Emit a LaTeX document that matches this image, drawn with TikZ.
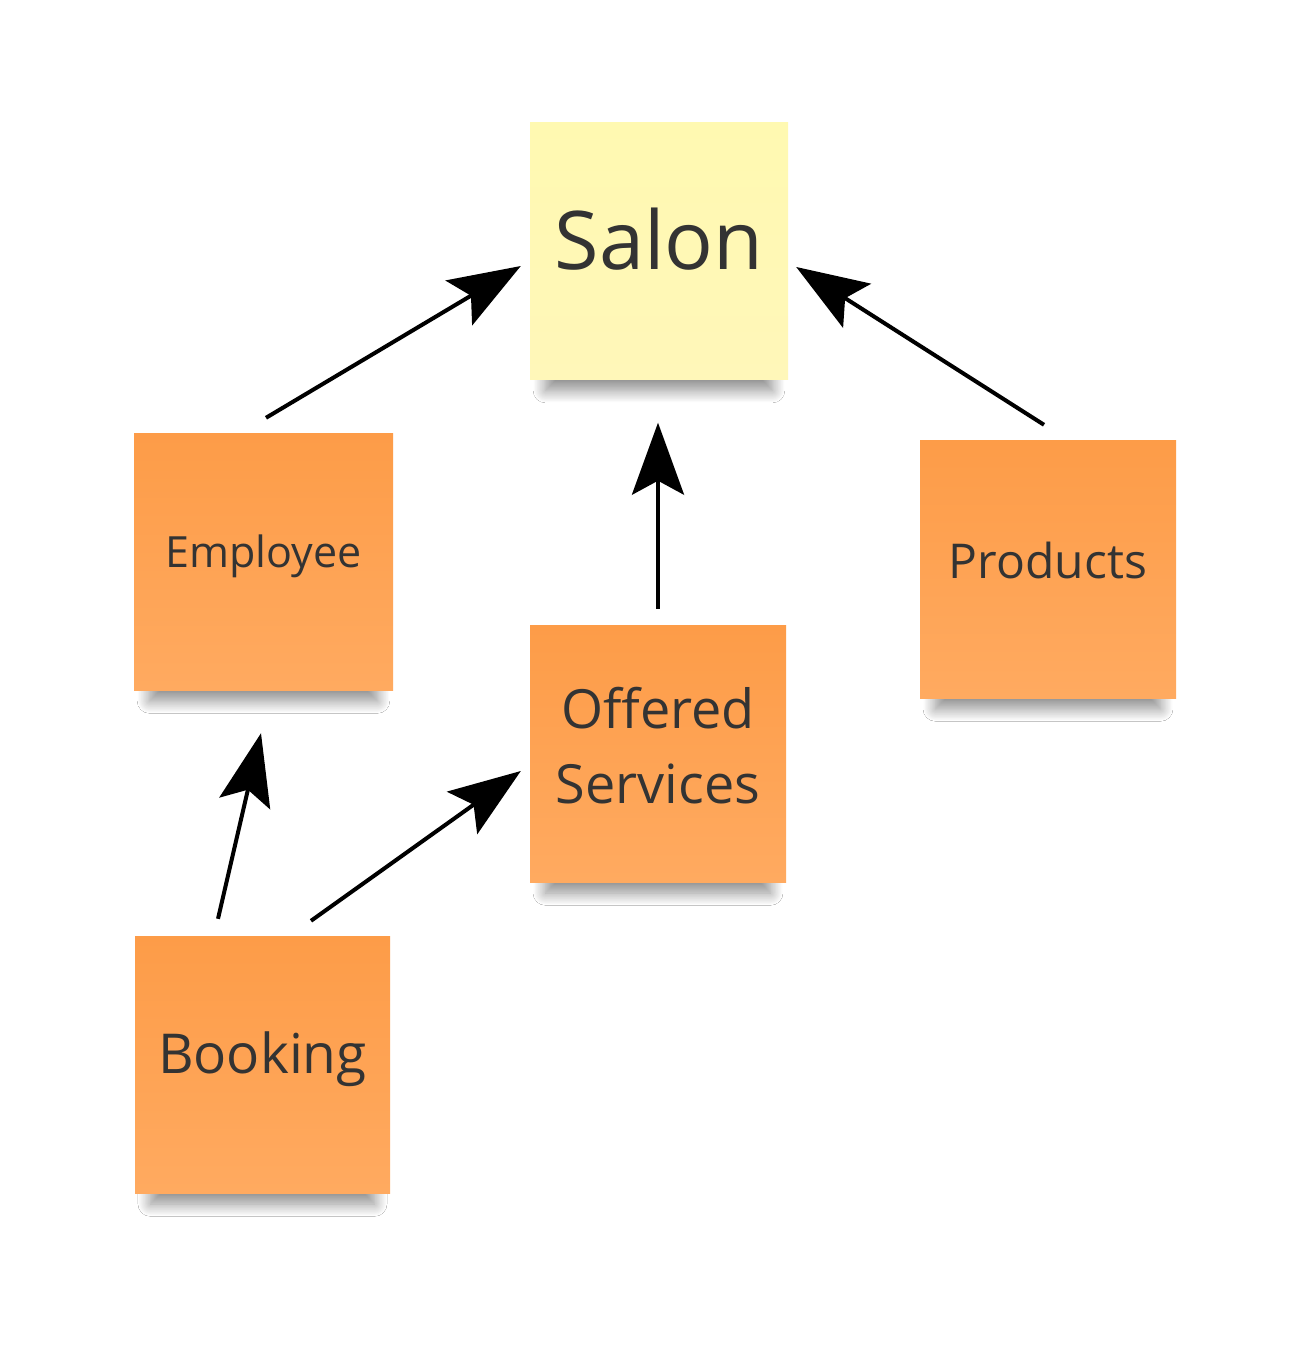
\documentclass[tikz,border=0pt]{standalone}
\usepackage{fontspec}
\setmainfont{Open Sans}
\usetikzlibrary{arrows.meta,shadows.blur,calc}
\definecolor{noteyellow}{RGB}{255,249,177}
\definecolor{noteyellowb}{RGB}{255,247,185}
\definecolor{noteorange}{RGB}{253,156,72}
\definecolor{noteorangeb}{RGB}{255,170,96}
\definecolor{notetext}{RGB}{51,51,51}
\tikzset{
  note/.style={rectangle, inner sep=0pt, minimum width=257pt, minimum height=257pt,
    blur shadow={shadow xshift=0pt, shadow yshift=-30pt, shadow scale=0.88,
      shadow blur radius=14pt, shadow blur steps=20, shadow opacity=45}},
  yellownote/.style={note, top color=noteyellow, bottom color=noteyellowb},
  orangenote/.style={note, top color=noteorange, bottom color=noteorangeb},
  txt/.style={text=notetext, align=center, inner sep=0pt},
  arr/.style={line width=4pt, draw=black, -{Stealth[length=72pt, width=52pt, inset=14pt]}}
}
\begin{document}
\begin{tikzpicture}[x=1pt,y=-1pt]
\useasboundingbox (0,0) rectangle (1295,1350);
\fill[white] (0,0) rectangle (1295,1350);
\node[yellownote, minimum width=258pt,
  label={[txt, font=\fontsize{81}{90}\selectfont, yshift=12pt]center:Salon}] (salon) at (659,251) {};
\node[orangenote, minimum width=259pt,
  label={[txt, font=\fontsize{43}{50}\selectfont, yshift=5pt]center:Employee}] (emp) at (263.5,561.5) {};
\node[orangenote, minimum width=256pt,
  label={[txt, font=\fontsize{54}{75}\selectfont, yshift=8pt]center:Offered\\Services}] (off) at (658,753.5) {};
\node[orangenote, minimum width=256pt, minimum height=258pt,
  label={[txt, font=\fontsize{48}{56}\selectfont, yshift=9pt]center:Products}] (prod) at (1048,569) {};
\node[orangenote, minimum width=255pt,
  label={[txt, font=\fontsize{55}{62}\selectfont, yshift=5pt]center:Booking}] (book) at (262.5,1064.5) {};
\draw[arr] ($(emp.north)+(2.5,-15)$) -- ($(salon.west)+(-9,15)$);
\draw[arr] ($(off.north)+(0,-16)$) -- ($(salon.south)+(-1,43)$);
\draw[arr] ($(prod.north)+(-4,-15)$) -- ($(salon.east)+(8,16)$);
\draw[arr] ($(book.north)+(-44.5,-17)$) -- ($(emp.south)+(-2.5,43)$);
\draw[arr] ($(book.north)+(48.5,-15)$) -- ($(off.west)+(-9,17.5)$);
\end{tikzpicture}
\end{document}
